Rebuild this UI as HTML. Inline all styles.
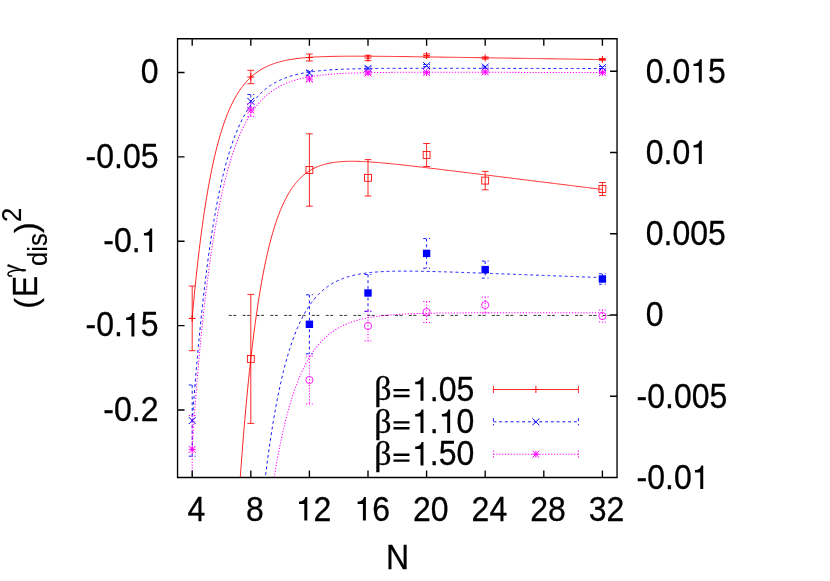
<!DOCTYPE html><html><head><meta charset="utf-8"><title>plot</title>
<style>html,body{margin:0;padding:0;background:#fff}svg{display:block;will-change:transform}text{font-family:"Liberation Sans",sans-serif;fill:#000}</style></head><body>
<svg width="830" height="581" viewBox="0 0 830 581">
<rect width="830" height="581" fill="#fff"/>
<defs><clipPath id="c"><rect x="177.55" y="38.7" width="439.49999999999994" height="438.8"/></clipPath></defs>
<g clip-path="url(#c)" fill="none">
<path d="M228.8 315.4H617.05" stroke="#000" stroke-width="1" stroke-dasharray="3 1.5 3 6.35" opacity="0.8"/>
<polyline points="192.20,317.72 193.23,306.47 194.26,295.70 195.28,285.39 196.31,275.53 197.34,266.09 198.37,257.06 199.40,248.42 200.42,240.15 201.45,232.23 202.48,224.66 203.51,217.41 204.54,210.47 205.56,203.84 206.59,197.48 207.62,191.40 208.65,185.59 209.68,180.02 210.71,174.69 211.73,169.59 212.76,164.71 213.79,160.03 214.82,155.56 215.85,151.28 216.87,147.19 217.90,143.26 218.93,139.51 219.96,135.92 220.99,132.48 222.01,129.19 223.04,126.04 224.07,123.03 225.10,120.14 226.13,117.38 227.15,114.74 228.18,112.20 229.21,109.78 230.24,107.46 231.27,105.24 232.29,103.12 233.32,101.08 234.35,99.14 235.38,97.27 236.41,95.49 237.44,93.78 238.46,92.14 239.49,90.58 240.52,89.08 241.55,87.65 242.58,86.27 243.60,84.96 244.63,83.70 245.66,82.49 246.69,81.34 247.72,80.24 248.74,79.18 249.77,78.17 250.80,77.20 251.83,76.27 252.86,75.38 253.88,74.53 254.91,73.72 255.94,72.94 256.97,72.19 258.00,71.48 259.02,70.79 260.05,70.14 261.08,69.51 262.11,68.91 263.14,68.34 264.16,67.79 265.19,67.26 266.22,66.76 267.25,66.28 268.28,65.81 269.31,65.37 270.33,64.95 271.36,64.54 272.39,64.16 273.42,63.79 274.45,63.43 275.47,63.09 276.50,62.77 277.53,62.46 278.56,62.16 279.59,61.87 280.61,61.60 281.64,61.34 282.67,61.09 283.70,60.85 284.73,60.63 285.75,60.41 286.78,60.20 287.81,60.00 288.84,59.81 289.87,59.63 290.89,59.45 291.92,59.29 292.95,59.13 293.98,58.97 295.01,58.83 296.04,58.69 297.06,58.56 298.09,58.43 299.12,58.31 300.15,58.19 301.18,58.08 302.20,57.98 303.23,57.88 304.26,57.78 305.29,57.69 306.32,57.60 307.34,57.52 308.37,57.44 309.40,57.37 310.43,57.29 311.46,57.23 312.48,57.16 313.51,57.10 314.54,57.04 315.57,56.98 316.60,56.93 317.62,56.88 318.65,56.83 319.68,56.79 320.71,56.74 321.74,56.70 322.76,56.67 323.79,56.63 324.82,56.59 325.85,56.56 326.88,56.53 327.91,56.50 328.93,56.48 329.96,56.45 330.99,56.43 332.02,56.40 333.05,56.38 334.07,56.36 335.10,56.35 336.13,56.33 337.16,56.31 338.19,56.30 339.21,56.29 340.24,56.27 341.27,56.26 342.30,56.25 343.33,56.24 344.35,56.23 345.38,56.23 346.41,56.22 347.44,56.22 348.47,56.21 349.49,56.21 350.52,56.20 351.55,56.20 352.58,56.20 353.61,56.20 354.64,56.20 355.66,56.20 356.69,56.20 357.72,56.20 358.75,56.20 359.78,56.20 360.80,56.20 361.83,56.21 362.86,56.21 363.89,56.22 364.92,56.22 365.94,56.22 366.97,56.23 368.00,56.24 369.03,56.24 370.06,56.25 371.08,56.25 372.11,56.26 373.14,56.27 374.17,56.28 375.20,56.28 376.22,56.29 377.25,56.30 378.28,56.31 379.31,56.32 380.34,56.33 381.36,56.34 382.39,56.35 383.42,56.36 384.45,56.37 385.48,56.38 386.51,56.39 387.53,56.40 388.56,56.41 389.59,56.42 390.62,56.43 391.65,56.44 392.67,56.45 393.70,56.47 394.73,56.48 395.76,56.49 396.79,56.50 397.81,56.51 398.84,56.53 399.87,56.54 400.90,56.55 401.93,56.56 402.95,56.58 403.98,56.59 405.01,56.60 406.04,56.62 407.07,56.63 408.09,56.64 409.12,56.66 410.15,56.67 411.18,56.68 412.21,56.70 413.24,56.71 414.26,56.73 415.29,56.74 416.32,56.75 417.35,56.77 418.38,56.78 419.40,56.80 420.43,56.81 421.46,56.82 422.49,56.84 423.52,56.85 424.54,56.87 425.57,56.88 426.60,56.90 427.63,56.91 428.66,56.93 429.68,56.94 430.71,56.95 431.74,56.97 432.77,56.98 433.80,57.00 434.82,57.01 435.85,57.03 436.88,57.04 437.91,57.06 438.94,57.07 439.96,57.09 440.99,57.10 442.02,57.12 443.05,57.13 444.08,57.15 445.11,57.16 446.13,57.18 447.16,57.20 448.19,57.21 449.22,57.23 450.25,57.24 451.27,57.26 452.30,57.27 453.33,57.29 454.36,57.30 455.39,57.32 456.41,57.33 457.44,57.35 458.47,57.36 459.50,57.38 460.53,57.40 461.55,57.41 462.58,57.43 463.61,57.44 464.64,57.46 465.67,57.47 466.69,57.49 467.72,57.50 468.75,57.52 469.78,57.54 470.81,57.55 471.84,57.57 472.86,57.58 473.89,57.60 474.92,57.61 475.95,57.63 476.98,57.65 478.00,57.66 479.03,57.68 480.06,57.69 481.09,57.71 482.12,57.73 483.14,57.74 484.17,57.76 485.20,57.77 486.23,57.79 487.26,57.80 488.28,57.82 489.31,57.84 490.34,57.85 491.37,57.87 492.40,57.88 493.42,57.90 494.45,57.92 495.48,57.93 496.51,57.95 497.54,57.96 498.56,57.98 499.59,58.00 500.62,58.01 501.65,58.03 502.68,58.04 503.71,58.06 504.73,58.08 505.76,58.09 506.79,58.11 507.82,58.12 508.85,58.14 509.87,58.15 510.90,58.17 511.93,58.19 512.96,58.20 513.99,58.22 515.01,58.23 516.04,58.25 517.07,58.27 518.10,58.28 519.13,58.30 520.15,58.32 521.18,58.33 522.21,58.35 523.24,58.36 524.27,58.38 525.29,58.40 526.32,58.41 527.35,58.43 528.38,58.44 529.41,58.46 530.44,58.48 531.46,58.49 532.49,58.51 533.52,58.52 534.55,58.54 535.58,58.56 536.60,58.57 537.63,58.59 538.66,58.60 539.69,58.62 540.72,58.64 541.74,58.65 542.77,58.67 543.80,58.68 544.83,58.70 545.86,58.72 546.88,58.73 547.91,58.75 548.94,58.76 549.97,58.78 551.00,58.80 552.02,58.81 553.05,58.83 554.08,58.85 555.11,58.86 556.14,58.88 557.16,58.89 558.19,58.91 559.22,58.93 560.25,58.94 561.28,58.96 562.31,58.97 563.33,58.99 564.36,59.01 565.39,59.02 566.42,59.04 567.45,59.05 568.47,59.07 569.50,59.09 570.53,59.10 571.56,59.12 572.59,59.14 573.61,59.15 574.64,59.17 575.67,59.18 576.70,59.20 577.73,59.22 578.75,59.23 579.78,59.25 580.81,59.26 581.84,59.28 582.87,59.30 583.89,59.31 584.92,59.33 585.95,59.34 586.98,59.36 588.01,59.38 589.04,59.39 590.06,59.41 591.09,59.43 592.12,59.44 593.15,59.46 594.18,59.47 595.20,59.49 596.23,59.51 597.26,59.52 598.29,59.54 599.32,59.55 600.34,59.57 601.37,59.59 602.40,59.60" stroke="#ff0000" stroke-width="0.85"/>
<polyline points="192.20,421.65 193.23,407.81 194.26,394.51 195.28,381.74 196.31,369.48 197.34,357.69 198.37,346.37 199.40,335.50 200.42,325.05 201.45,315.02 202.48,305.38 203.51,296.12 204.54,287.22 205.56,278.67 206.59,270.46 207.62,262.57 208.65,254.99 209.68,247.70 210.71,240.71 211.73,233.98 212.76,227.52 213.79,221.32 214.82,215.35 215.85,209.62 216.87,204.12 217.90,198.83 218.93,193.75 219.96,188.86 220.99,184.17 222.01,179.66 223.04,175.32 224.07,171.16 225.10,167.16 226.13,163.31 227.15,159.62 228.18,156.06 229.21,152.65 230.24,149.37 231.27,146.22 232.29,143.19 233.32,140.28 234.35,137.48 235.38,134.79 236.41,132.21 237.44,129.73 238.46,127.34 239.49,125.04 240.52,122.84 241.55,120.72 242.58,118.68 243.60,116.73 244.63,114.85 245.66,113.04 246.69,111.30 247.72,109.63 248.74,108.02 249.77,106.48 250.80,104.99 251.83,103.57 252.86,102.20 253.88,100.88 254.91,99.61 255.94,98.40 256.97,97.23 258.00,96.10 259.02,95.02 260.05,93.98 261.08,92.98 262.11,92.02 263.14,91.10 264.16,90.21 265.19,89.36 266.22,88.54 267.25,87.75 268.28,86.99 269.31,86.26 270.33,85.56 271.36,84.89 272.39,84.24 273.42,83.62 274.45,83.02 275.47,82.45 276.50,81.89 277.53,81.36 278.56,80.85 279.59,80.36 280.61,79.89 281.64,79.43 282.67,79.00 283.70,78.58 284.73,78.17 285.75,77.79 286.78,77.41 287.81,77.05 288.84,76.71 289.87,76.38 290.89,76.06 291.92,75.75 292.95,75.46 293.98,75.18 295.01,74.90 296.04,74.64 297.06,74.39 298.09,74.15 299.12,73.92 300.15,73.69 301.18,73.48 302.20,73.27 303.23,73.07 304.26,72.88 305.29,72.70 306.32,72.52 307.34,72.35 308.37,72.19 309.40,72.03 310.43,71.88 311.46,71.74 312.48,71.60 313.51,71.47 314.54,71.34 315.57,71.21 316.60,71.09 317.62,70.98 318.65,70.87 319.68,70.77 320.71,70.66 321.74,70.57 322.76,70.47 323.79,70.38 324.82,70.30 325.85,70.21 326.88,70.13 327.91,70.06 328.93,69.98 329.96,69.91 330.99,69.84 332.02,69.78 333.05,69.72 334.07,69.66 335.10,69.60 336.13,69.54 337.16,69.49 338.19,69.44 339.21,69.39 340.24,69.34 341.27,69.29 342.30,69.25 343.33,69.21 344.35,69.17 345.38,69.13 346.41,69.09 347.44,69.06 348.47,69.02 349.49,68.99 350.52,68.96 351.55,68.93 352.58,68.90 353.61,68.87 354.64,68.84 355.66,68.82 356.69,68.79 357.72,68.77 358.75,68.75 359.78,68.72 360.80,68.70 361.83,68.68 362.86,68.66 363.89,68.65 364.92,68.63 365.94,68.61 366.97,68.60 368.00,68.58 369.03,68.57 370.06,68.55 371.08,68.54 372.11,68.52 373.14,68.51 374.17,68.50 375.20,68.49 376.22,68.48 377.25,68.47 378.28,68.46 379.31,68.45 380.34,68.44 381.36,68.43 382.39,68.42 383.42,68.41 384.45,68.41 385.48,68.40 386.51,68.39 387.53,68.39 388.56,68.38 389.59,68.37 390.62,68.37 391.65,68.36 392.67,68.36 393.70,68.35 394.73,68.35 395.76,68.35 396.79,68.34 397.81,68.34 398.84,68.33 399.87,68.33 400.90,68.33 401.93,68.32 402.95,68.32 403.98,68.32 405.01,68.32 406.04,68.31 407.07,68.31 408.09,68.31 409.12,68.31 410.15,68.31 411.18,68.30 412.21,68.30 413.24,68.30 414.26,68.30 415.29,68.30 416.32,68.30 417.35,68.30 418.38,68.30 419.40,68.30 420.43,68.30 421.46,68.29 422.49,68.29 423.52,68.29 424.54,68.29 425.57,68.29 426.60,68.29 427.63,68.29 428.66,68.29 429.68,68.29 430.71,68.29 431.74,68.29 432.77,68.29 433.80,68.29 434.82,68.29 435.85,68.30 436.88,68.30 437.91,68.30 438.94,68.30 439.96,68.30 440.99,68.30 442.02,68.30 443.05,68.30 444.08,68.30 445.11,68.30 446.13,68.30 447.16,68.30 448.19,68.30 449.22,68.31 450.25,68.31 451.27,68.31 452.30,68.31 453.33,68.31 454.36,68.31 455.39,68.31 456.41,68.31 457.44,68.31 458.47,68.32 459.50,68.32 460.53,68.32 461.55,68.32 462.58,68.32 463.61,68.32 464.64,68.32 465.67,68.32 466.69,68.33 467.72,68.33 468.75,68.33 469.78,68.33 470.81,68.33 471.84,68.33 472.86,68.33 473.89,68.34 474.92,68.34 475.95,68.34 476.98,68.34 478.00,68.34 479.03,68.34 480.06,68.35 481.09,68.35 482.12,68.35 483.14,68.35 484.17,68.35 485.20,68.35 486.23,68.35 487.26,68.36 488.28,68.36 489.31,68.36 490.34,68.36 491.37,68.36 492.40,68.36 493.42,68.37 494.45,68.37 495.48,68.37 496.51,68.37 497.54,68.37 498.56,68.37 499.59,68.38 500.62,68.38 501.65,68.38 502.68,68.38 503.71,68.38 504.73,68.38 505.76,68.39 506.79,68.39 507.82,68.39 508.85,68.39 509.87,68.39 510.90,68.39 511.93,68.40 512.96,68.40 513.99,68.40 515.01,68.40 516.04,68.40 517.07,68.41 518.10,68.41 519.13,68.41 520.15,68.41 521.18,68.41 522.21,68.41 523.24,68.42 524.27,68.42 525.29,68.42 526.32,68.42 527.35,68.42 528.38,68.42 529.41,68.43 530.44,68.43 531.46,68.43 532.49,68.43 533.52,68.43 534.55,68.44 535.58,68.44 536.60,68.44 537.63,68.44 538.66,68.44 539.69,68.44 540.72,68.45 541.74,68.45 542.77,68.45 543.80,68.45 544.83,68.45 545.86,68.45 546.88,68.46 547.91,68.46 548.94,68.46 549.97,68.46 551.00,68.46 552.02,68.47 553.05,68.47 554.08,68.47 555.11,68.47 556.14,68.47 557.16,68.47 558.19,68.48 559.22,68.48 560.25,68.48 561.28,68.48 562.31,68.48 563.33,68.49 564.36,68.49 565.39,68.49 566.42,68.49 567.45,68.49 568.47,68.49 569.50,68.50 570.53,68.50 571.56,68.50 572.59,68.50 573.61,68.50 574.64,68.50 575.67,68.51 576.70,68.51 577.73,68.51 578.75,68.51 579.78,68.51 580.81,68.52 581.84,68.52 582.87,68.52 583.89,68.52 584.92,68.52 585.95,68.52 586.98,68.53 588.01,68.53 589.04,68.53 590.06,68.53 591.09,68.53 592.12,68.54 593.15,68.54 594.18,68.54 595.20,68.54 596.23,68.54 597.26,68.54 598.29,68.55 599.32,68.55 600.34,68.55 601.37,68.55 602.40,68.55" stroke="#0000ff" stroke-width="0.92" stroke-dasharray="2.9 2.85"/>
<polyline points="192.20,447.88 193.23,432.21 194.26,417.43 195.28,403.46 196.31,390.21 197.34,377.62 198.37,365.63 199.40,354.20 200.42,343.29 201.45,332.86 202.48,322.87 203.51,313.31 204.54,304.14 205.56,295.34 206.59,286.90 207.62,278.80 208.65,271.01 209.68,263.53 210.71,256.33 211.73,249.42 212.76,242.77 213.79,236.37 214.82,230.22 215.85,224.30 216.87,218.60 217.90,213.12 218.93,207.85 219.96,202.78 220.99,197.89 222.01,193.19 223.04,188.66 224.07,184.31 225.10,180.12 226.13,176.08 227.15,172.19 228.18,168.45 229.21,164.85 230.24,161.39 231.27,158.05 232.29,154.84 233.32,151.75 234.35,148.77 235.38,145.91 236.41,143.15 237.44,140.49 238.46,137.94 239.49,135.48 240.52,133.11 241.55,130.83 242.58,128.63 243.60,126.52 244.63,124.48 245.66,122.53 246.69,120.64 247.72,118.82 248.74,117.08 249.77,115.39 250.80,113.77 251.83,112.22 252.86,110.71 253.88,109.27 254.91,107.88 255.94,106.54 256.97,105.25 258.00,104.01 259.02,102.81 260.05,101.66 261.08,100.56 262.11,99.49 263.14,98.47 264.16,97.48 265.19,96.53 266.22,95.61 267.25,94.73 268.28,93.88 269.31,93.07 270.33,92.28 271.36,91.52 272.39,90.79 273.42,90.09 274.45,89.42 275.47,88.77 276.50,88.14 277.53,87.54 278.56,86.96 279.59,86.40 280.61,85.87 281.64,85.35 282.67,84.85 283.70,84.37 284.73,83.91 285.75,83.47 286.78,83.04 287.81,82.63 288.84,82.23 289.87,81.85 290.89,81.49 291.92,81.13 292.95,80.79 293.98,80.47 295.01,80.15 296.04,79.85 297.06,79.56 298.09,79.28 299.12,79.01 300.15,78.75 301.18,78.50 302.20,78.26 303.23,78.02 304.26,77.80 305.29,77.59 306.32,77.38 307.34,77.18 308.37,76.99 309.40,76.80 310.43,76.63 311.46,76.46 312.48,76.29 313.51,76.13 314.54,75.98 315.57,75.84 316.60,75.70 317.62,75.56 318.65,75.43 319.68,75.30 320.71,75.18 321.74,75.07 322.76,74.96 323.79,74.85 324.82,74.75 325.85,74.65 326.88,74.55 327.91,74.46 328.93,74.37 329.96,74.29 330.99,74.20 332.02,74.12 333.05,74.05 334.07,73.98 335.10,73.91 336.13,73.84 337.16,73.77 338.19,73.71 339.21,73.65 340.24,73.59 341.27,73.54 342.30,73.48 343.33,73.43 344.35,73.38 345.38,73.34 346.41,73.29 347.44,73.25 348.47,73.21 349.49,73.17 350.52,73.13 351.55,73.09 352.58,73.05 353.61,73.02 354.64,72.99 355.66,72.95 356.69,72.92 357.72,72.89 358.75,72.87 359.78,72.84 360.80,72.81 361.83,72.79 362.86,72.76 363.89,72.74 364.92,72.72 365.94,72.70 366.97,72.68 368.00,72.66 369.03,72.64 370.06,72.62 371.08,72.60 372.11,72.59 373.14,72.57 374.17,72.56 375.20,72.54 376.22,72.53 377.25,72.52 378.28,72.50 379.31,72.49 380.34,72.48 381.36,72.47 382.39,72.46 383.42,72.45 384.45,72.44 385.48,72.43 386.51,72.42 387.53,72.41 388.56,72.40 389.59,72.39 390.62,72.39 391.65,72.38 392.67,72.37 393.70,72.37 394.73,72.36 395.76,72.36 396.79,72.35 397.81,72.34 398.84,72.34 399.87,72.33 400.90,72.33 401.93,72.33 402.95,72.32 403.98,72.32 405.01,72.31 406.04,72.31 407.07,72.31 408.09,72.31 409.12,72.30 410.15,72.30 411.18,72.30 412.21,72.30 413.24,72.29 414.26,72.29 415.29,72.29 416.32,72.29 417.35,72.29 418.38,72.28 419.40,72.28 420.43,72.28 421.46,72.28 422.49,72.28 423.52,72.28 424.54,72.28 425.57,72.28 426.60,72.28 427.63,72.28 428.66,72.28 429.68,72.28 430.71,72.28 431.74,72.28 432.77,72.28 433.80,72.28 434.82,72.28 435.85,72.28 436.88,72.28 437.91,72.28 438.94,72.28 439.96,72.28 440.99,72.28 442.02,72.28 443.05,72.28 444.08,72.28 445.11,72.28 446.13,72.28 447.16,72.28 448.19,72.28 449.22,72.28 450.25,72.28 451.27,72.28 452.30,72.29 453.33,72.29 454.36,72.29 455.39,72.29 456.41,72.29 457.44,72.29 458.47,72.29 459.50,72.29 460.53,72.29 461.55,72.30 462.58,72.30 463.61,72.30 464.64,72.30 465.67,72.30 466.69,72.30 467.72,72.30 468.75,72.30 469.78,72.31 470.81,72.31 471.84,72.31 472.86,72.31 473.89,72.31 474.92,72.31 475.95,72.31 476.98,72.32 478.00,72.32 479.03,72.32 480.06,72.32 481.09,72.32 482.12,72.32 483.14,72.32 484.17,72.33 485.20,72.33 486.23,72.33 487.26,72.33 488.28,72.33 489.31,72.33 490.34,72.34 491.37,72.34 492.40,72.34 493.42,72.34 494.45,72.34 495.48,72.34 496.51,72.35 497.54,72.35 498.56,72.35 499.59,72.35 500.62,72.35 501.65,72.35 502.68,72.36 503.71,72.36 504.73,72.36 505.76,72.36 506.79,72.36 507.82,72.37 508.85,72.37 509.87,72.37 510.90,72.37 511.93,72.37 512.96,72.37 513.99,72.38 515.01,72.38 516.04,72.38 517.07,72.38 518.10,72.38 519.13,72.38 520.15,72.39 521.18,72.39 522.21,72.39 523.24,72.39 524.27,72.39 525.29,72.40 526.32,72.40 527.35,72.40 528.38,72.40 529.41,72.40 530.44,72.40 531.46,72.41 532.49,72.41 533.52,72.41 534.55,72.41 535.58,72.41 536.60,72.42 537.63,72.42 538.66,72.42 539.69,72.42 540.72,72.42 541.74,72.43 542.77,72.43 543.80,72.43 544.83,72.43 545.86,72.43 546.88,72.43 547.91,72.44 548.94,72.44 549.97,72.44 551.00,72.44 552.02,72.44 553.05,72.45 554.08,72.45 555.11,72.45 556.14,72.45 557.16,72.45 558.19,72.45 559.22,72.46 560.25,72.46 561.28,72.46 562.31,72.46 563.33,72.46 564.36,72.47 565.39,72.47 566.42,72.47 567.45,72.47 568.47,72.47 569.50,72.48 570.53,72.48 571.56,72.48 572.59,72.48 573.61,72.48 574.64,72.48 575.67,72.49 576.70,72.49 577.73,72.49 578.75,72.49 579.78,72.49 580.81,72.50 581.84,72.50 582.87,72.50 583.89,72.50 584.92,72.50 585.95,72.51 586.98,72.51 588.01,72.51 589.04,72.51 590.06,72.51 591.09,72.51 592.12,72.52 593.15,72.52 594.18,72.52 595.20,72.52 596.23,72.52 597.26,72.53 598.29,72.53 599.32,72.53 600.34,72.53 601.37,72.53 602.40,72.54" stroke="#ff00ff" stroke-width="1.02" stroke-dasharray="1.2 1.68"/>
<polyline points="239.12,493.84 240.06,480.37 241.00,467.44 241.93,455.01 242.87,443.07 243.81,431.60 244.74,420.57 245.68,409.98 246.61,399.81 247.55,390.04 248.49,380.65 249.42,371.63 250.36,362.96 251.30,354.64 252.23,346.64 253.17,338.96 254.10,331.58 255.04,324.49 255.98,317.69 256.91,311.15 257.85,304.87 258.79,298.84 259.72,293.05 260.66,287.48 261.59,282.14 262.53,277.01 263.47,272.08 264.40,267.35 265.34,262.81 266.28,258.45 267.21,254.26 268.15,250.24 269.08,246.39 270.02,242.68 270.96,239.12 271.89,235.71 272.83,232.43 273.77,229.29 274.70,226.27 275.64,223.38 276.58,220.60 277.51,217.93 278.45,215.37 279.38,212.92 280.32,210.56 281.26,208.30 282.19,206.14 283.13,204.06 284.07,202.07 285.00,200.16 285.94,198.32 286.87,196.57 287.81,194.89 288.75,193.27 289.68,191.73 290.62,190.24 291.56,188.82 292.49,187.46 293.43,186.16 294.36,184.91 295.30,183.72 296.24,182.58 297.17,181.48 298.11,180.43 299.05,179.43 299.98,178.47 300.92,177.56 301.85,176.68 302.79,175.84 303.73,175.04 304.66,174.27 305.60,173.54 306.54,172.84 307.47,172.18 308.41,171.54 309.34,170.93 310.28,170.36 311.22,169.80 312.15,169.28 313.09,168.78 314.03,168.30 314.96,167.84 315.90,167.41 316.84,167.00 317.77,166.61 318.71,166.24 319.64,165.89 320.58,165.56 321.52,165.24 322.45,164.94 323.39,164.66 324.33,164.39 325.26,164.14 326.20,163.90 327.13,163.68 328.07,163.47 329.01,163.27 329.94,163.08 330.88,162.91 331.82,162.74 332.75,162.59 333.69,162.45 334.62,162.32 335.56,162.20 336.50,162.08 337.43,161.98 338.37,161.88 339.31,161.80 340.24,161.72 341.18,161.64 342.11,161.58 343.05,161.52 343.99,161.47 344.92,161.43 345.86,161.39 346.80,161.36 347.73,161.33 348.67,161.31 349.60,161.30 350.54,161.29 351.48,161.28 352.41,161.28 353.35,161.28 354.29,161.29 355.22,161.30 356.16,161.32 357.10,161.34 358.03,161.37 358.97,161.39 359.90,161.42 360.84,161.46 361.78,161.50 362.71,161.54 363.65,161.58 364.59,161.63 365.52,161.68 366.46,161.73 367.39,161.78 368.33,161.84 369.27,161.90 370.20,161.96 371.14,162.02 372.08,162.09 373.01,162.16 373.95,162.23 374.88,162.30 375.82,162.37 376.76,162.44 377.69,162.52 378.63,162.60 379.57,162.68 380.50,162.76 381.44,162.84 382.37,162.92 383.31,163.01 384.25,163.09 385.18,163.18 386.12,163.27 387.06,163.36 387.99,163.45 388.93,163.54 389.86,163.63 390.80,163.73 391.74,163.82 392.67,163.92 393.61,164.01 394.55,164.11 395.48,164.21 396.42,164.30 397.36,164.40 398.29,164.50 399.23,164.60 400.16,164.70 401.10,164.80 402.04,164.91 402.97,165.01 403.91,165.11 404.85,165.22 405.78,165.32 406.72,165.42 407.65,165.53 408.59,165.64 409.53,165.74 410.46,165.85 411.40,165.95 412.34,166.06 413.27,166.17 414.21,166.28 415.14,166.38 416.08,166.49 417.02,166.60 417.95,166.71 418.89,166.82 419.83,166.93 420.76,167.04 421.70,167.15 422.63,167.26 423.57,167.37 424.51,167.48 425.44,167.59 426.38,167.70 427.32,167.81 428.25,167.93 429.19,168.04 430.12,168.15 431.06,168.26 432.00,168.37 432.93,168.49 433.87,168.60 434.81,168.71 435.74,168.82 436.68,168.94 437.62,169.05 438.55,169.16 439.49,169.28 440.42,169.39 441.36,169.50 442.30,169.62 443.23,169.73 444.17,169.85 445.11,169.96 446.04,170.07 446.98,170.19 447.91,170.30 448.85,170.42 449.79,170.53 450.72,170.65 451.66,170.76 452.60,170.87 453.53,170.99 454.47,171.10 455.40,171.22 456.34,171.33 457.28,171.45 458.21,171.56 459.15,171.68 460.09,171.79 461.02,171.91 461.96,172.02 462.89,172.14 463.83,172.25 464.77,172.37 465.70,172.49 466.64,172.60 467.58,172.72 468.51,172.83 469.45,172.95 470.38,173.06 471.32,173.18 472.26,173.29 473.19,173.41 474.13,173.53 475.07,173.64 476.00,173.76 476.94,173.87 477.88,173.99 478.81,174.10 479.75,174.22 480.68,174.34 481.62,174.45 482.56,174.57 483.49,174.68 484.43,174.80 485.37,174.91 486.30,175.03 487.24,175.15 488.17,175.26 489.11,175.38 490.05,175.49 490.98,175.61 491.92,175.73 492.86,175.84 493.79,175.96 494.73,176.07 495.66,176.19 496.60,176.31 497.54,176.42 498.47,176.54 499.41,176.65 500.35,176.77 501.28,176.89 502.22,177.00 503.15,177.12 504.09,177.24 505.03,177.35 505.96,177.47 506.90,177.58 507.84,177.70 508.77,177.82 509.71,177.93 510.64,178.05 511.58,178.16 512.52,178.28 513.45,178.40 514.39,178.51 515.33,178.63 516.26,178.75 517.20,178.86 518.13,178.98 519.07,179.09 520.01,179.21 520.94,179.33 521.88,179.44 522.82,179.56 523.75,179.67 524.69,179.79 525.63,179.91 526.56,180.02 527.50,180.14 528.43,180.26 529.37,180.37 530.31,180.49 531.24,180.60 532.18,180.72 533.12,180.84 534.05,180.95 534.99,181.07 535.92,181.19 536.86,181.30 537.80,181.42 538.73,181.53 539.67,181.65 540.61,181.77 541.54,181.88 542.48,182.00 543.41,182.12 544.35,182.23 545.29,182.35 546.22,182.47 547.16,182.58 548.10,182.70 549.03,182.81 549.97,182.93 550.90,183.05 551.84,183.16 552.78,183.28 553.71,183.40 554.65,183.51 555.59,183.63 556.52,183.74 557.46,183.86 558.39,183.98 559.33,184.09 560.27,184.21 561.20,184.33 562.14,184.44 563.08,184.56 564.01,184.67 564.95,184.79 565.89,184.91 566.82,185.02 567.76,185.14 568.69,185.26 569.63,185.37 570.57,185.49 571.50,185.60 572.44,185.72 573.38,185.84 574.31,185.95 575.25,186.07 576.18,186.19 577.12,186.30 578.06,186.42 578.99,186.54 579.93,186.65 580.87,186.77 581.80,186.88 582.74,187.00 583.67,187.12 584.61,187.23 585.55,187.35 586.48,187.47 587.42,187.58 588.36,187.70 589.29,187.81 590.23,187.93 591.16,188.05 592.10,188.16 593.04,188.28 593.97,188.40 594.91,188.51 595.85,188.63 596.78,188.75 597.72,188.86 598.65,188.98 599.59,189.09 600.53,189.21 601.46,189.33 602.40,189.44" stroke="#ff0000" stroke-width="0.85"/>
<polyline points="262.26,503.60 263.14,495.68 264.02,488.03 264.90,480.63 265.78,473.49 266.66,466.58 267.54,459.90 268.42,453.44 269.31,447.20 270.19,441.17 271.07,435.34 271.95,429.71 272.83,424.26 273.71,419.00 274.59,413.91 275.47,408.99 276.35,404.24 277.24,399.65 278.12,395.21 279.00,390.92 279.88,386.78 280.76,382.77 281.64,378.90 282.52,375.15 283.40,371.54 284.29,368.04 285.17,364.66 286.05,361.40 286.93,358.24 287.81,355.20 288.69,352.25 289.57,349.40 290.45,346.65 291.34,343.99 292.22,341.42 293.10,338.94 293.98,336.54 294.86,334.23 295.74,331.99 296.62,329.82 297.50,327.73 298.38,325.71 299.27,323.76 300.15,321.87 301.03,320.05 301.91,318.29 302.79,316.59 303.67,314.95 304.55,313.36 305.43,311.83 306.32,310.35 307.20,308.92 308.08,307.54 308.96,306.20 309.84,304.91 310.72,303.67 311.60,302.47 312.48,301.31 313.37,300.18 314.25,299.10 315.13,298.05 316.01,297.04 316.89,296.07 317.77,295.13 318.65,294.22 319.53,293.34 320.42,292.49 321.30,291.67 322.18,290.88 323.06,290.12 323.94,289.39 324.82,288.68 325.70,287.99 326.58,287.33 327.46,286.69 328.35,286.07 329.23,285.48 330.11,284.91 330.99,284.35 331.87,283.82 332.75,283.30 333.63,282.81 334.51,282.33 335.40,281.87 336.28,281.42 337.16,280.99 338.04,280.58 338.92,280.18 339.80,279.79 340.68,279.42 341.56,279.06 342.45,278.72 343.33,278.39 344.21,278.07 345.09,277.76 345.97,277.46 346.85,277.18 347.73,276.90 348.61,276.64 349.49,276.38 350.38,276.14 351.26,275.90 352.14,275.67 353.02,275.46 353.90,275.25 354.78,275.04 355.66,274.85 356.54,274.66 357.43,274.48 358.31,274.31 359.19,274.15 360.07,273.99 360.95,273.84 361.83,273.69 362.71,273.55 363.59,273.42 364.48,273.29 365.36,273.16 366.24,273.05 367.12,272.93 368.00,272.83 368.88,272.72 369.76,272.62 370.64,272.53 371.52,272.44 372.41,272.35 373.29,272.27 374.17,272.19 375.05,272.12 375.93,272.05 376.81,271.98 377.69,271.92 378.57,271.86 379.46,271.80 380.34,271.74 381.22,271.69 382.10,271.64 382.98,271.60 383.86,271.55 384.74,271.51 385.62,271.47 386.51,271.44 387.39,271.40 388.27,271.37 389.15,271.34 390.03,271.32 390.91,271.29 391.79,271.27 392.67,271.25 393.55,271.23 394.44,271.21 395.32,271.19 396.20,271.18 397.08,271.17 397.96,271.16 398.84,271.15 399.72,271.14 400.60,271.13 401.49,271.13 402.37,271.12 403.25,271.12 404.13,271.12 405.01,271.12 405.89,271.12 406.77,271.12 407.65,271.12 408.54,271.12 409.42,271.13 410.30,271.14 411.18,271.14 412.06,271.15 412.94,271.16 413.82,271.17 414.70,271.18 415.58,271.19 416.47,271.20 417.35,271.21 418.23,271.23 419.11,271.24 419.99,271.25 420.87,271.27 421.75,271.28 422.63,271.30 423.52,271.32 424.40,271.33 425.28,271.35 426.16,271.37 427.04,271.39 427.92,271.41 428.80,271.43 429.68,271.45 430.57,271.47 431.45,271.49 432.33,271.51 433.21,271.54 434.09,271.56 434.97,271.58 435.85,271.60 436.73,271.63 437.62,271.65 438.50,271.68 439.38,271.70 440.26,271.73 441.14,271.75 442.02,271.78 442.90,271.80 443.78,271.83 444.66,271.85 445.55,271.88 446.43,271.91 447.31,271.93 448.19,271.96 449.07,271.99 449.95,272.02 450.83,272.04 451.71,272.07 452.60,272.10 453.48,272.13 454.36,272.16 455.24,272.19 456.12,272.21 457.00,272.24 457.88,272.27 458.76,272.30 459.65,272.33 460.53,272.36 461.41,272.39 462.29,272.42 463.17,272.45 464.05,272.48 464.93,272.51 465.81,272.54 466.69,272.57 467.58,272.60 468.46,272.63 469.34,272.66 470.22,272.69 471.10,272.73 471.98,272.76 472.86,272.79 473.74,272.82 474.63,272.85 475.51,272.88 476.39,272.91 477.27,272.94 478.15,272.98 479.03,273.01 479.91,273.04 480.79,273.07 481.68,273.10 482.56,273.14 483.44,273.17 484.32,273.20 485.20,273.23 486.08,273.26 486.96,273.30 487.84,273.33 488.72,273.36 489.61,273.39 490.49,273.43 491.37,273.46 492.25,273.49 493.13,273.52 494.01,273.56 494.89,273.59 495.77,273.62 496.66,273.65 497.54,273.69 498.42,273.72 499.30,273.75 500.18,273.78 501.06,273.82 501.94,273.85 502.82,273.88 503.71,273.92 504.59,273.95 505.47,273.98 506.35,274.01 507.23,274.05 508.11,274.08 508.99,274.11 509.87,274.15 510.75,274.18 511.64,274.21 512.52,274.25 513.40,274.28 514.28,274.31 515.16,274.35 516.04,274.38 516.92,274.41 517.80,274.44 518.69,274.48 519.57,274.51 520.45,274.54 521.33,274.58 522.21,274.61 523.09,274.64 523.97,274.68 524.85,274.71 525.74,274.74 526.62,274.78 527.50,274.81 528.38,274.84 529.26,274.88 530.14,274.91 531.02,274.94 531.90,274.98 532.78,275.01 533.67,275.05 534.55,275.08 535.43,275.11 536.31,275.15 537.19,275.18 538.07,275.21 538.95,275.25 539.83,275.28 540.72,275.31 541.60,275.35 542.48,275.38 543.36,275.41 544.24,275.45 545.12,275.48 546.00,275.51 546.88,275.55 547.77,275.58 548.65,275.61 549.53,275.65 550.41,275.68 551.29,275.71 552.17,275.75 553.05,275.78 553.93,275.82 554.82,275.85 555.70,275.88 556.58,275.92 557.46,275.95 558.34,275.98 559.22,276.02 560.10,276.05 560.98,276.08 561.86,276.12 562.75,276.15 563.63,276.19 564.51,276.22 565.39,276.25 566.27,276.29 567.15,276.32 568.03,276.35 568.91,276.39 569.80,276.42 570.68,276.45 571.56,276.49 572.44,276.52 573.32,276.55 574.20,276.59 575.08,276.62 575.96,276.66 576.85,276.69 577.73,276.72 578.61,276.76 579.49,276.79 580.37,276.82 581.25,276.86 582.13,276.89 583.01,276.92 583.89,276.96 584.78,276.99 585.66,277.03 586.54,277.06 587.42,277.09 588.30,277.13 589.18,277.16 590.06,277.19 590.94,277.23 591.83,277.26 592.71,277.29 593.59,277.33 594.47,277.36 595.35,277.40 596.23,277.43 597.11,277.46 597.99,277.50 598.88,277.53 599.76,277.56 600.64,277.60 601.52,277.63 602.40,277.66" stroke="#0000ff" stroke-width="0.92" stroke-dasharray="2.9 2.85"/>
<polyline points="270.20,503.12 271.07,497.14 271.93,491.35 272.79,485.74 273.66,480.30 274.52,475.04 275.38,469.94 276.24,465.00 277.11,460.22 277.97,455.59 278.83,451.10 279.70,446.75 280.56,442.54 281.42,438.46 282.28,434.51 283.15,430.69 284.01,426.98 284.87,423.39 285.74,419.91 286.60,416.55 287.46,413.28 288.32,410.12 289.19,407.06 290.05,404.10 290.91,401.23 291.78,398.45 292.64,395.75 293.50,393.15 294.36,390.62 295.23,388.17 296.09,385.80 296.95,383.50 297.82,381.28 298.68,379.12 299.54,377.04 300.40,375.02 301.27,373.06 302.13,371.16 302.99,369.32 303.86,367.55 304.72,365.82 305.58,364.15 306.44,362.54 307.31,360.97 308.17,359.45 309.03,357.98 309.90,356.56 310.76,355.18 311.62,353.85 312.48,352.56 313.35,351.30 314.21,350.09 315.07,348.92 315.94,347.78 316.80,346.67 317.66,345.61 318.52,344.57 319.39,343.57 320.25,342.60 321.11,341.66 321.98,340.75 322.84,339.87 323.70,339.02 324.56,338.19 325.43,337.39 326.29,336.61 327.15,335.86 328.02,335.13 328.88,334.43 329.74,333.74 330.60,333.08 331.47,332.44 332.33,331.82 333.19,331.22 334.06,330.64 334.92,330.07 335.78,329.53 336.64,329.00 337.51,328.49 338.37,327.99 339.23,327.51 340.10,327.04 340.96,326.59 341.82,326.16 342.68,325.73 343.55,325.32 344.41,324.93 345.27,324.54 346.14,324.17 347.00,323.81 347.86,323.46 348.72,323.12 349.59,322.79 350.45,322.48 351.31,322.17 352.18,321.87 353.04,321.58 353.90,321.30 354.76,321.03 355.63,320.77 356.49,320.52 357.35,320.27 358.21,320.03 359.08,319.80 359.94,319.58 360.80,319.36 361.67,319.15 362.53,318.95 363.39,318.75 364.25,318.56 365.12,318.38 365.98,318.20 366.84,318.03 367.71,317.86 368.57,317.70 369.43,317.54 370.29,317.39 371.16,317.24 372.02,317.10 372.88,316.96 373.75,316.83 374.61,316.70 375.47,316.57 376.33,316.45 377.20,316.33 378.06,316.22 378.92,316.11 379.79,316.00 380.65,315.90 381.51,315.80 382.37,315.70 383.24,315.61 384.10,315.51 384.96,315.43 385.83,315.34 386.69,315.26 387.55,315.18 388.41,315.10 389.28,315.03 390.14,314.95 391.00,314.88 391.87,314.81 392.73,314.75 393.59,314.68 394.45,314.62 395.32,314.56 396.18,314.50 397.04,314.45 397.91,314.39 398.77,314.34 399.63,314.29 400.49,314.24 401.36,314.19 402.22,314.14 403.08,314.10 403.95,314.06 404.81,314.01 405.67,313.97 406.53,313.93 407.40,313.90 408.26,313.86 409.12,313.82 409.99,313.79 410.85,313.75 411.71,313.72 412.57,313.69 413.44,313.66 414.30,313.63 415.16,313.60 416.03,313.57 416.89,313.55 417.75,313.52 418.61,313.50 419.48,313.47 420.34,313.45 421.20,313.43 422.07,313.40 422.93,313.38 423.79,313.36 424.65,313.34 425.52,313.32 426.38,313.30 427.24,313.29 428.11,313.27 428.97,313.25 429.83,313.24 430.69,313.22 431.56,313.20 432.42,313.19 433.28,313.17 434.15,313.16 435.01,313.15 435.87,313.13 436.73,313.12 437.60,313.11 438.46,313.10 439.32,313.09 440.19,313.08 441.05,313.06 441.91,313.05 442.77,313.04 443.64,313.03 444.50,313.03 445.36,313.02 446.23,313.01 447.09,313.00 447.95,312.99 448.81,312.98 449.68,312.98 450.54,312.97 451.40,312.96 452.27,312.95 453.13,312.95 453.99,312.94 454.85,312.93 455.72,312.93 456.58,312.92 457.44,312.92 458.30,312.91 459.17,312.91 460.03,312.90 460.89,312.90 461.76,312.89 462.62,312.89 463.48,312.88 464.34,312.88 465.21,312.87 466.07,312.87 466.93,312.87 467.80,312.86 468.66,312.86 469.52,312.86 470.38,312.85 471.25,312.85 472.11,312.85 472.97,312.84 473.84,312.84 474.70,312.84 475.56,312.84 476.42,312.83 477.29,312.83 478.15,312.83 479.01,312.83 479.88,312.82 480.74,312.82 481.60,312.82 482.46,312.82 483.33,312.82 484.19,312.81 485.05,312.81 485.92,312.81 486.78,312.81 487.64,312.81 488.50,312.81 489.37,312.80 490.23,312.80 491.09,312.80 491.96,312.80 492.82,312.80 493.68,312.80 494.54,312.80 495.41,312.80 496.27,312.80 497.13,312.79 498.00,312.79 498.86,312.79 499.72,312.79 500.58,312.79 501.45,312.79 502.31,312.79 503.17,312.79 504.04,312.79 504.90,312.79 505.76,312.79 506.62,312.79 507.49,312.79 508.35,312.79 509.21,312.79 510.08,312.79 510.94,312.78 511.80,312.78 512.66,312.78 513.53,312.78 514.39,312.78 515.25,312.78 516.12,312.78 516.98,312.78 517.84,312.78 518.70,312.78 519.57,312.78 520.43,312.78 521.29,312.78 522.16,312.78 523.02,312.78 523.88,312.78 524.74,312.78 525.61,312.78 526.47,312.78 527.33,312.78 528.20,312.78 529.06,312.78 529.92,312.78 530.78,312.78 531.65,312.78 532.51,312.78 533.37,312.78 534.24,312.78 535.10,312.78 535.96,312.78 536.82,312.78 537.69,312.78 538.55,312.78 539.41,312.78 540.28,312.78 541.14,312.78 542.00,312.78 542.86,312.78 543.73,312.78 544.59,312.78 545.45,312.79 546.32,312.79 547.18,312.79 548.04,312.79 548.90,312.79 549.77,312.79 550.63,312.79 551.49,312.79 552.36,312.79 553.22,312.79 554.08,312.79 554.94,312.79 555.81,312.79 556.67,312.79 557.53,312.79 558.39,312.79 559.26,312.79 560.12,312.79 560.98,312.79 561.85,312.79 562.71,312.79 563.57,312.79 564.43,312.79 565.30,312.79 566.16,312.79 567.02,312.79 567.89,312.79 568.75,312.79 569.61,312.79 570.47,312.79 571.34,312.79 572.20,312.80 573.06,312.80 573.93,312.80 574.79,312.80 575.65,312.80 576.51,312.80 577.38,312.80 578.24,312.80 579.10,312.80 579.97,312.80 580.83,312.80 581.69,312.80 582.55,312.80 583.42,312.80 584.28,312.80 585.14,312.80 586.01,312.80 586.87,312.80 587.73,312.80 588.59,312.80 589.46,312.80 590.32,312.80 591.18,312.80 592.05,312.80 592.91,312.81 593.77,312.81 594.63,312.81 595.50,312.81 596.36,312.81 597.22,312.81 598.09,312.81 598.95,312.81 599.81,312.81 600.67,312.81 601.54,312.81 602.40,312.81" stroke="#ff00ff" stroke-width="1.02" stroke-dasharray="1.2 1.68"/>
<path d="M192.20 286.10V350.70M188.80 286.10h6.8M188.80 350.70h6.8" stroke="#ff0000" stroke-width="0.85"/>
<path d="M188.75 318.40h6.9M192.20 314.95v6.9" stroke="#ff0000" stroke-width="1.0"/>
<path d="M250.80 70.30V83.70M247.40 70.30h6.8M247.40 83.70h6.8" stroke="#ff0000" stroke-width="0.85"/>
<path d="M247.35 77.00h6.9M250.80 73.55v6.9" stroke="#ff0000" stroke-width="1.0"/>
<path d="M309.40 54.00V61.00M306.00 54.00h6.8M306.00 61.00h6.8" stroke="#ff0000" stroke-width="0.85"/>
<path d="M305.95 57.50h6.9M309.40 54.05v6.9" stroke="#ff0000" stroke-width="1.0"/>
<path d="M368.00 55.30V60.70M364.60 55.30h6.8M364.60 60.70h6.8" stroke="#ff0000" stroke-width="0.85"/>
<path d="M364.55 58.00h6.9M368.00 54.55v6.9" stroke="#ff0000" stroke-width="1.0"/>
<path d="M426.60 53.90V57.30M423.20 53.90h6.8M423.20 57.30h6.8" stroke="#ff0000" stroke-width="0.85"/>
<path d="M423.15 55.60h6.9M426.60 52.15v6.9" stroke="#ff0000" stroke-width="1.0"/>
<path d="M485.20 56.90V59.10M481.80 56.90h6.8M481.80 59.10h6.8" stroke="#ff0000" stroke-width="0.85"/>
<path d="M481.75 58.00h6.9M485.20 54.55v6.9" stroke="#ff0000" stroke-width="1.0"/>
<path d="M602.40 58.50V60.30M599.00 58.50h6.8M599.00 60.30h6.8" stroke="#ff0000" stroke-width="0.85"/>
<path d="M598.95 59.40h6.9M602.40 55.95v6.9" stroke="#ff0000" stroke-width="1.0"/>
<path d="M192.20 385.00V456.20M188.80 385.00h6.8M188.80 456.20h6.8" stroke="#0000ff" stroke-width="0.92" stroke-dasharray="2.9 2.85"/>
<path d="M188.75 417.15l6.9 6.9M188.75 424.05l6.9 -6.9" stroke="#0000ff" stroke-width="1.0"/>
<path d="M250.80 94.50V108.10M247.40 94.50h6.8M247.40 108.10h6.8" stroke="#0000ff" stroke-width="0.92" stroke-dasharray="2.9 2.85"/>
<path d="M247.35 97.85l6.9 6.9M247.35 104.75l6.9 -6.9" stroke="#0000ff" stroke-width="1.0"/>
<path d="M309.40 70.80V75.20M306.00 70.80h6.8M306.00 75.20h6.8" stroke="#0000ff" stroke-width="0.92" stroke-dasharray="2.9 2.85"/>
<path d="M305.95 69.55l6.9 6.9M305.95 76.45l6.9 -6.9" stroke="#0000ff" stroke-width="1.0"/>
<path d="M368.00 66.90V69.90M364.60 66.90h6.8M364.60 69.90h6.8" stroke="#0000ff" stroke-width="0.92" stroke-dasharray="2.9 2.85"/>
<path d="M364.55 64.95l6.9 6.9M364.55 71.85l6.9 -6.9" stroke="#0000ff" stroke-width="1.0"/>
<path d="M426.60 64.50V66.70M423.20 64.50h6.8M423.20 66.70h6.8" stroke="#0000ff" stroke-width="0.92" stroke-dasharray="2.9 2.85"/>
<path d="M423.15 62.15l6.9 6.9M423.15 69.05l6.9 -6.9" stroke="#0000ff" stroke-width="1.0"/>
<path d="M485.20 66.00V68.00M481.80 66.00h6.8M481.80 68.00h6.8" stroke="#0000ff" stroke-width="0.92" stroke-dasharray="2.9 2.85"/>
<path d="M481.75 63.55l6.9 6.9M481.75 70.45l6.9 -6.9" stroke="#0000ff" stroke-width="1.0"/>
<path d="M602.40 66.60V68.60M599.00 66.60h6.8M599.00 68.60h6.8" stroke="#0000ff" stroke-width="0.92" stroke-dasharray="2.9 2.85"/>
<path d="M598.95 64.15l6.9 6.9M598.95 71.05l6.9 -6.9" stroke="#0000ff" stroke-width="1.0"/>
<path d="M192.20 415.60V483.20M188.80 415.60h6.8M188.80 483.20h6.8" stroke="#ff00ff" stroke-width="1.02" stroke-dasharray="1.2 1.68"/>
<path d="M188.75 449.40h6.9M192.20 445.95v6.9" stroke="#ff00ff" stroke-width="1.0"/>
<path d="M188.75 445.95l6.9 6.9M188.75 452.85l6.9 -6.9" stroke="#ff00ff" stroke-width="1.0"/>
<path d="M250.80 103.50V116.50M247.40 103.50h6.8M247.40 116.50h6.8" stroke="#ff00ff" stroke-width="1.02" stroke-dasharray="1.2 1.68"/>
<path d="M247.35 110.00h6.9M250.80 106.55v6.9" stroke="#ff00ff" stroke-width="1.0"/>
<path d="M247.35 106.55l6.9 6.9M247.35 113.45l6.9 -6.9" stroke="#ff00ff" stroke-width="1.0"/>
<path d="M309.40 76.80V81.20M306.00 76.80h6.8M306.00 81.20h6.8" stroke="#ff00ff" stroke-width="1.02" stroke-dasharray="1.2 1.68"/>
<path d="M305.95 79.00h6.9M309.40 75.55v6.9" stroke="#ff00ff" stroke-width="1.0"/>
<path d="M305.95 75.55l6.9 6.9M305.95 82.45l6.9 -6.9" stroke="#ff00ff" stroke-width="1.0"/>
<path d="M368.00 71.60V74.40M364.60 71.60h6.8M364.60 74.40h6.8" stroke="#ff00ff" stroke-width="1.02" stroke-dasharray="1.2 1.68"/>
<path d="M364.55 73.00h6.9M368.00 69.55v6.9" stroke="#ff00ff" stroke-width="1.0"/>
<path d="M364.55 69.55l6.9 6.9M364.55 76.45l6.9 -6.9" stroke="#ff00ff" stroke-width="1.0"/>
<path d="M426.60 71.50V73.70M423.20 71.50h6.8M423.20 73.70h6.8" stroke="#ff00ff" stroke-width="1.02" stroke-dasharray="1.2 1.68"/>
<path d="M423.15 72.60h6.9M426.60 69.15v6.9" stroke="#ff00ff" stroke-width="1.0"/>
<path d="M423.15 69.15l6.9 6.9M423.15 76.05l6.9 -6.9" stroke="#ff00ff" stroke-width="1.0"/>
<path d="M485.20 71.00V73.00M481.80 71.00h6.8M481.80 73.00h6.8" stroke="#ff00ff" stroke-width="1.02" stroke-dasharray="1.2 1.68"/>
<path d="M481.75 72.00h6.9M485.20 68.55v6.9" stroke="#ff00ff" stroke-width="1.0"/>
<path d="M481.75 68.55l6.9 6.9M481.75 75.45l6.9 -6.9" stroke="#ff00ff" stroke-width="1.0"/>
<path d="M602.40 71.60V73.60M599.00 71.60h6.8M599.00 73.60h6.8" stroke="#ff00ff" stroke-width="1.02" stroke-dasharray="1.2 1.68"/>
<path d="M598.95 72.60h6.9M602.40 69.15v6.9" stroke="#ff00ff" stroke-width="1.0"/>
<path d="M598.95 69.15l6.9 6.9M598.95 76.05l6.9 -6.9" stroke="#ff00ff" stroke-width="1.0"/>
<path d="M250.80 294.40V423.40M247.40 294.40h6.8M247.40 423.40h6.8" stroke="#ff0000" stroke-width="0.85"/>
<rect x="247.35" y="355.45" width="6.9" height="6.9" stroke="#ff0000" stroke-width="0.85"/>
<path d="M309.40 133.80V206.20M306.00 133.80h6.8M306.00 206.20h6.8" stroke="#ff0000" stroke-width="0.85"/>
<rect x="305.95" y="166.55" width="6.9" height="6.9" stroke="#ff0000" stroke-width="0.85"/>
<path d="M368.00 159.60V196.00M364.60 159.60h6.8M364.60 196.00h6.8" stroke="#ff0000" stroke-width="0.85"/>
<rect x="364.55" y="174.35" width="6.9" height="6.9" stroke="#ff0000" stroke-width="0.85"/>
<path d="M426.60 143.50V166.50M423.20 143.50h6.8M423.20 166.50h6.8" stroke="#ff0000" stroke-width="0.85"/>
<rect x="423.15" y="151.55" width="6.9" height="6.9" stroke="#ff0000" stroke-width="0.85"/>
<path d="M485.20 171.40V189.80M481.80 171.40h6.8M481.80 189.80h6.8" stroke="#ff0000" stroke-width="0.85"/>
<rect x="481.75" y="177.15" width="6.9" height="6.9" stroke="#ff0000" stroke-width="0.85"/>
<path d="M602.40 182.50V195.50M599.00 182.50h6.8M599.00 195.50h6.8" stroke="#ff0000" stroke-width="0.85"/>
<rect x="598.95" y="185.55" width="6.9" height="6.9" stroke="#ff0000" stroke-width="0.85"/>
<path d="M309.40 294.80V353.80M306.00 294.80h6.8M306.00 353.80h6.8" stroke="#0000ff" stroke-width="0.92" stroke-dasharray="2.9 2.85"/>
<rect x="305.70" y="320.60" width="7.4" height="7.4" fill="#0000ff" stroke="none"/>
<path d="M368.00 274.50V311.50M364.60 274.50h6.8M364.60 311.50h6.8" stroke="#0000ff" stroke-width="0.92" stroke-dasharray="2.9 2.85"/>
<rect x="364.30" y="289.30" width="7.4" height="7.4" fill="#0000ff" stroke="none"/>
<path d="M426.60 238.60V268.20M423.20 238.60h6.8M423.20 268.20h6.8" stroke="#0000ff" stroke-width="0.92" stroke-dasharray="2.9 2.85"/>
<rect x="422.90" y="249.70" width="7.4" height="7.4" fill="#0000ff" stroke="none"/>
<path d="M485.20 261.10V278.10M481.80 261.10h6.8M481.80 278.10h6.8" stroke="#0000ff" stroke-width="0.92" stroke-dasharray="2.9 2.85"/>
<rect x="481.50" y="265.90" width="7.4" height="7.4" fill="#0000ff" stroke="none"/>
<path d="M602.40 273.80V284.20M599.00 273.80h6.8M599.00 284.20h6.8" stroke="#0000ff" stroke-width="0.92" stroke-dasharray="2.9 2.85"/>
<rect x="598.70" y="275.30" width="7.4" height="7.4" fill="#0000ff" stroke="none"/>
<path d="M309.40 356.00V404.00M306.00 356.00h6.8M306.00 404.00h6.8" stroke="#ff00ff" stroke-width="1.02" stroke-dasharray="1.2 1.68"/>
<circle cx="309.40" cy="380.00" r="3.6" stroke="#ff00ff" stroke-width="0.85"/>
<path d="M368.00 311.00V341.00M364.60 311.00h6.8M364.60 341.00h6.8" stroke="#ff00ff" stroke-width="1.02" stroke-dasharray="1.2 1.68"/>
<circle cx="368.00" cy="326.00" r="3.6" stroke="#ff00ff" stroke-width="0.85"/>
<path d="M426.60 301.50V322.50M423.20 301.50h6.8M423.20 322.50h6.8" stroke="#ff00ff" stroke-width="1.02" stroke-dasharray="1.2 1.68"/>
<circle cx="426.60" cy="312.00" r="3.6" stroke="#ff00ff" stroke-width="0.85"/>
<path d="M485.20 297.00V313.00M481.80 297.00h6.8M481.80 313.00h6.8" stroke="#ff00ff" stroke-width="1.02" stroke-dasharray="1.2 1.68"/>
<circle cx="485.20" cy="305.00" r="3.6" stroke="#ff00ff" stroke-width="0.85"/>
<path d="M602.40 310.00V322.00M599.00 310.00h6.8M599.00 322.00h6.8" stroke="#ff00ff" stroke-width="1.02" stroke-dasharray="1.2 1.68"/>
<circle cx="602.40" cy="316.00" r="3.6" stroke="#ff00ff" stroke-width="0.85"/>
</g>
<g fill="none">
<path d="M493.4 389.5H578.4M493.4 385.90000000000003v7.2M578.4 385.90000000000003v7.2" stroke="#ff0000" stroke-width="0.85"/>
<path d="M532.45 389.50h6.9M535.90 386.05v6.9" stroke="#ff0000" stroke-width="1.0"/>
<path d="M493.4 421.8H578.4M493.4 418.20000000000005v7.2M578.4 418.20000000000005v7.2" stroke="#0000ff" stroke-width="0.92" stroke-dasharray="2.9 2.85"/>
<path d="M532.45 418.35l6.9 6.9M532.45 425.25l6.9 -6.9" stroke="#0000ff" stroke-width="1.0"/>
<path d="M493.4 454.2H578.4M493.4 450.6v7.2M578.4 450.6v7.2" stroke="#ff00ff" stroke-width="1.02" stroke-dasharray="1.2 1.68"/>
<path d="M532.45 454.20h6.9M535.90 450.75v6.9" stroke="#ff00ff" stroke-width="1.0"/>
<path d="M532.45 450.75l6.9 6.9M532.45 457.65l6.9 -6.9" stroke="#ff00ff" stroke-width="1.0"/>
</g>
<text transform="translate(374.3 400.3) scale(1.06 1.06)" font-size="32" stroke="#000" stroke-width="0.35" style="font-family:'Liberation Serif',serif">β</text>
<path d="M393.5 388.90h16v2.35h-16zM393.5 394.80h16v2.35h-16z" fill="#000"/>
<path transform="translate(411.99 400.7) scale(32 -32)" d="M0.359 0H0.266V0.516H0.101V0.590C0.195 0.592 0.272 0.625 0.298 0.731H0.359Z" fill="#000"/>
<text transform="translate(429.78 400.7) scale(1 1.09)" font-size="32" stroke="#000" stroke-width="0.25">.05</text>
<text transform="translate(374.3 432.6) scale(1.06 1.06)" font-size="32" stroke="#000" stroke-width="0.35" style="font-family:'Liberation Serif',serif">β</text>
<path d="M393.5 421.20h16v2.35h-16zM393.5 427.10h16v2.35h-16z" fill="#000"/>
<path transform="translate(411.99 433.0) scale(32 -32)" d="M0.359 0H0.266V0.516H0.101V0.590C0.195 0.592 0.272 0.625 0.298 0.731H0.359Z" fill="#000"/>
<text transform="translate(429.78 433.0) scale(1 1.09)" font-size="32" stroke="#000" stroke-width="0.25">.</text>
<path transform="translate(438.68 433.0) scale(32 -32)" d="M0.359 0H0.266V0.516H0.101V0.590C0.195 0.592 0.272 0.625 0.298 0.731H0.359Z" fill="#000"/>
<text transform="translate(456.47 433.0) scale(1 1.09)" font-size="32" stroke="#000" stroke-width="0.25">0</text>
<text transform="translate(374.3 465.0) scale(1.06 1.06)" font-size="32" stroke="#000" stroke-width="0.35" style="font-family:'Liberation Serif',serif">β</text>
<path d="M393.5 453.60h16v2.35h-16zM393.5 459.50h16v2.35h-16z" fill="#000"/>
<path transform="translate(411.99 465.4) scale(32 -32)" d="M0.359 0H0.266V0.516H0.101V0.590C0.195 0.592 0.272 0.625 0.298 0.731H0.359Z" fill="#000"/>
<text transform="translate(429.78 465.4) scale(1 1.09)" font-size="32" stroke="#000" stroke-width="0.25">.50</text>
<path d="M177.55 38.7H617.05V477.5H177.55ZM192.20 477.5v-7M192.20 38.7v7M250.80 477.5v-7M250.80 38.7v7M309.40 477.5v-7M309.40 38.7v7M368.00 477.5v-7M368.00 38.7v7M426.60 477.5v-7M426.60 38.7v7M485.20 477.5v-7M485.20 38.7v7M543.80 477.5v-7M543.80 38.7v7M602.40 477.5v-7M602.40 38.7v7M177.55 72.45h7M177.55 156.84h7M177.55 241.22h7M177.55 325.61h7M177.55 409.99h7M617.05 71.20h-7M617.05 152.46h-7M617.05 233.72h-7M617.05 314.98h-7M617.05 396.24h-7M617.05 477.50h-7" fill="none" stroke="#000" stroke-width="1.35" stroke-linejoin="miter"/>
<text transform="translate(187.5 520.5) scale(1 1.09)" font-size="32" stroke="#000" stroke-width="0.25">4</text>
<text transform="translate(246.1 520.5) scale(1 1.09)" font-size="32" stroke="#000" stroke-width="0.25">8</text>
<path transform="translate(295.80 520.5) scale(32 -32)" d="M0.359 0H0.266V0.516H0.101V0.590C0.195 0.592 0.272 0.625 0.298 0.731H0.359Z" fill="#000"/>
<text transform="translate(313.6 520.5) scale(1 1.09)" font-size="32" stroke="#000" stroke-width="0.25">2</text>
<path transform="translate(354.40 520.5) scale(32 -32)" d="M0.359 0H0.266V0.516H0.101V0.590C0.195 0.592 0.272 0.625 0.298 0.731H0.359Z" fill="#000"/>
<text transform="translate(372.2 520.5) scale(1 1.09)" font-size="32" stroke="#000" stroke-width="0.25">6</text>
<text transform="translate(413.0 520.5) scale(1 1.09)" font-size="32" stroke="#000" stroke-width="0.25">20</text>
<text transform="translate(471.6 520.5) scale(1 1.09)" font-size="32" stroke="#000" stroke-width="0.25">24</text>
<text transform="translate(530.2 520.5) scale(1 1.09)" font-size="32" stroke="#000" stroke-width="0.25">28</text>
<text transform="translate(588.8 520.5) scale(1 1.09)" font-size="32" stroke="#000" stroke-width="0.25">32</text>
<text transform="translate(397.5 569) scale(1 1.09)" font-size="32" text-anchor="middle" stroke="#000" stroke-width="0.25">N</text>
<text transform="translate(140.7 83.3) scale(1 1.09)" font-size="32" stroke="#000" stroke-width="0.25">0</text>
<text transform="translate(85.56 167.6) scale(1 1.09)" font-size="32" stroke="#000" stroke-width="0.25">-0.05</text>
<text transform="translate(103.36 252.0) scale(1 1.09)" font-size="32" stroke="#000" stroke-width="0.25">-0.</text>
<path transform="translate(140.70 252.0) scale(32 -32)" d="M0.359 0H0.266V0.516H0.101V0.590C0.195 0.592 0.272 0.625 0.298 0.731H0.359Z" fill="#000"/>
<text transform="translate(85.56 336.4) scale(1 1.09)" font-size="32" stroke="#000" stroke-width="0.25">-0.</text>
<path transform="translate(122.91 336.4) scale(32 -32)" d="M0.359 0H0.266V0.516H0.101V0.590C0.195 0.592 0.272 0.625 0.298 0.731H0.359Z" fill="#000"/>
<text transform="translate(140.7 336.4) scale(1 1.09)" font-size="32" stroke="#000" stroke-width="0.25">5</text>
<text transform="translate(103.36 420.8) scale(1 1.09)" font-size="32" stroke="#000" stroke-width="0.25">-0.2</text>
<text transform="translate(645.8 82.6) scale(1 1.09)" font-size="32" stroke="#000" stroke-width="0.25">0.0</text>
<path transform="translate(690.28 82.6) scale(32 -32)" d="M0.359 0H0.266V0.516H0.101V0.590C0.195 0.592 0.272 0.625 0.298 0.731H0.359Z" fill="#000"/>
<text transform="translate(708.08 82.6) scale(1 1.09)" font-size="32" stroke="#000" stroke-width="0.25">5</text>
<text transform="translate(645.8 163.9) scale(1 1.09)" font-size="32" stroke="#000" stroke-width="0.25">0.0</text>
<path transform="translate(690.28 163.9) scale(32 -32)" d="M0.359 0H0.266V0.516H0.101V0.590C0.195 0.592 0.272 0.625 0.298 0.731H0.359Z" fill="#000"/>
<text transform="translate(645.8 245.1) scale(1 1.09)" font-size="32" stroke="#000" stroke-width="0.25">0.005</text>
<text transform="translate(645.8 326.4) scale(1 1.09)" font-size="32" stroke="#000" stroke-width="0.25">0</text>
<text transform="translate(636.6 407.6) scale(1 1.09)" font-size="32" stroke="#000" stroke-width="0.25">-0.005</text>
<text transform="translate(636.6 488.9) scale(1 1.09)" font-size="32" stroke="#000" stroke-width="0.25">-0.0</text>
<path transform="translate(691.74 488.9) scale(32 -32)" d="M0.359 0H0.266V0.516H0.101V0.590C0.195 0.592 0.272 0.625 0.298 0.731H0.359Z" fill="#000"/>
<text transform="translate(36.7 308.7) rotate(-90) scale(1 1)" font-size="32" stroke="#000" stroke-width="0.3">(</text>
<text transform="translate(36.8 297.3) rotate(-90) scale(1 1.07)" font-size="32" stroke="#000" stroke-width="0.3">E</text>
<g transform="translate(7 276.7) rotate(-90)" fill="#000" stroke="#000"><path d="M0.7 4.7C0.2 1.6 2.4 -0.1 4.0 1.6C5.6 3.6 6.6 9 6.7 13.4" fill="none" stroke-width="1.5" stroke-linecap="round"/><path d="M10.4 0.4L12.5 1.0L7.3 14.8L6.2 14.4Z" stroke-width="0.3"/><ellipse cx="6.4" cy="16.3" rx="1.25" ry="2.9" stroke="none"/></g>
<text transform="translate(46.9 266) rotate(-90) scale(1 1.05)" font-size="25.6" stroke="#000" stroke-width="0.15">dis</text>
<text transform="translate(36.7 233.0) rotate(-90) scale(1 1)" font-size="32" stroke="#000" stroke-width="0.3">)</text>
<text transform="translate(20.9 222) rotate(-90) scale(1 1.09)" font-size="25.6" stroke="#000" stroke-width="0.15">2</text>
</svg></body></html>
